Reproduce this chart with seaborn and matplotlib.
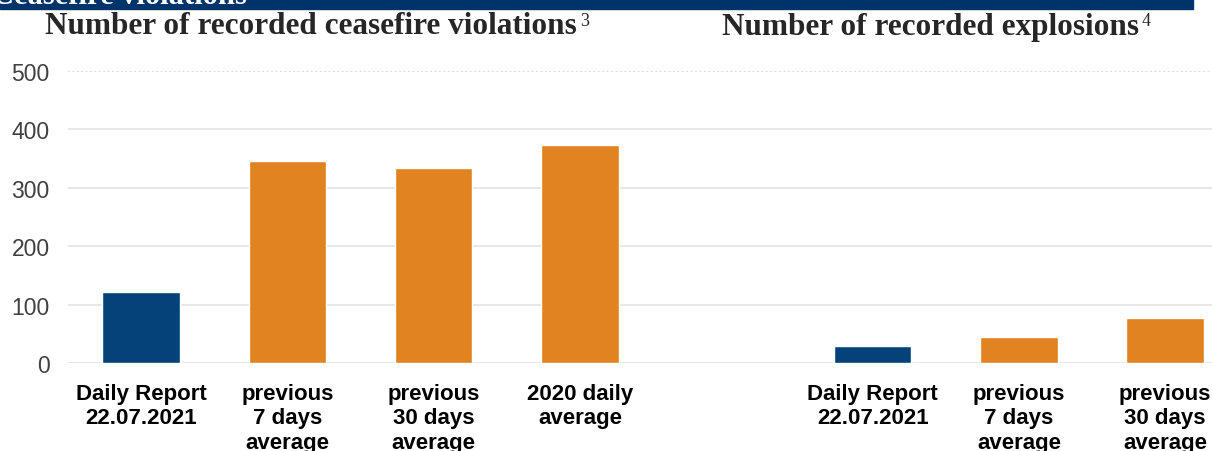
### Ceasefire violations / explosions bar chart ###
import matplotlib
matplotlib.use("Agg")
import matplotlib.pyplot as plt
import seaborn as sns
import pandas as pd

# data
labels_left = ["Daily Report\n22.07.2021", "previous\n7 days\naverage",
               "previous\n30 days\naverage", "2020 daily\naverage"]
violations = [121, 346, 333, 373]
labels_right = ["Daily Report\n22.07.2021", "previous\n7 days\naverage",
                "previous\n30 days\naverage"]
explosions = [29, 45, 77]
kinds_left = ["report", "avg", "avg", "avg"]
kinds_right = ["report", "avg", "avg"]

BLUE = "#044279"
ORANGE = "#E08320"
BANNER = "#00336A"

sns.set_theme(style="white")
plt.rcParams["font.family"] = ["Liberation Sans", "DejaVu Sans"]

# one axis with an empty slot between the two groups
slots = list(range(len(labels_left))) + [len(labels_left) + 1 + i for i in range(len(labels_right))]
df = pd.DataFrame({
    "slot": slots,
    "value": violations + explosions,
    "kind": kinds_left + kinds_right,
})
n_slots = len(labels_left) + 1 + len(labels_right)
tick_labels = labels_left + [""] + labels_right

fig = plt.figure(figsize=(12.12, 4.52), dpi=100)
ax = fig.add_axes([67.8 / 1212, 87.7 / 452, 1170.6 / 1212, 292.6 / 452])

sns.barplot(data=df, x="slot", y="value", hue="kind", order=list(range(n_slots)),
            palette={"report": BLUE, "avg": ORANGE}, saturation=1, dodge=False,
            width=0.53, legend=False, ax=ax, zorder=3)

ax.set_xlim(-0.5, n_slots - 0.5)
ax.set_ylim(0, 500)
ax.set_yticks([0, 100, 200, 300, 400, 500])
ax.set_xticks(range(n_slots))
ax.set_xticklabels(tick_labels, fontsize=16, fontweight="bold", color="black",
                   linespacing=1.22)
ax.tick_params(axis="y", labelsize=16.5, labelcolor="#404040", length=0, pad=13)
ax.tick_params(axis="x", length=0, pad=14)
ax.set_xlabel("")
ax.set_ylabel("")
for s in ax.spines.values():
    s.set_visible(False)
ax.grid(axis="y", color="#e4e4e4", linewidth=1.2, zorder=0)
ax.grid(axis="x", visible=False)
ax.get_ygridlines()[-1].set_linestyle(":")
ax.get_ygridlines()[-1].set_color("#d0d0d0")

# top banner, cut off like the source page
fig.patches.append(plt.Rectangle((0, 1 - 9.5 / 452), 1193 / 1212, 9.5 / 452,
                                 transform=fig.transFigure, color=BANNER, zorder=0))
fig.text(-8 / 1212, 1 - 4.5 / 452, "Ceasefire violations", color="white",
         fontsize=22, fontweight="bold", family="Liberation Serif",
         ha="left", va="baseline")

# panel titles with footnote marks
serif = "Liberation Serif"
t1 = fig.text(311 / 1212, 1 - 27 / 452, "Number of recorded ceasefire violations",
              fontsize=22.5, fontweight="bold", family=serif, ha="center", va="center")
t2 = fig.text(930 / 1212, 1 - 27 / 452, "Number of recorded explosions",
              fontsize=22.5, fontweight="bold", family=serif, ha="center", va="center")
for t, mark in [(t1, "3"), (t2, "4")]:
    ax.annotate(mark, xy=(1, 0.4), xycoords=t, xytext=(2, 0), textcoords="offset points",
                fontsize=13, family=serif, ha="left", va="bottom", annotation_clip=False)

fig.savefig("out.png", dpi=100)
